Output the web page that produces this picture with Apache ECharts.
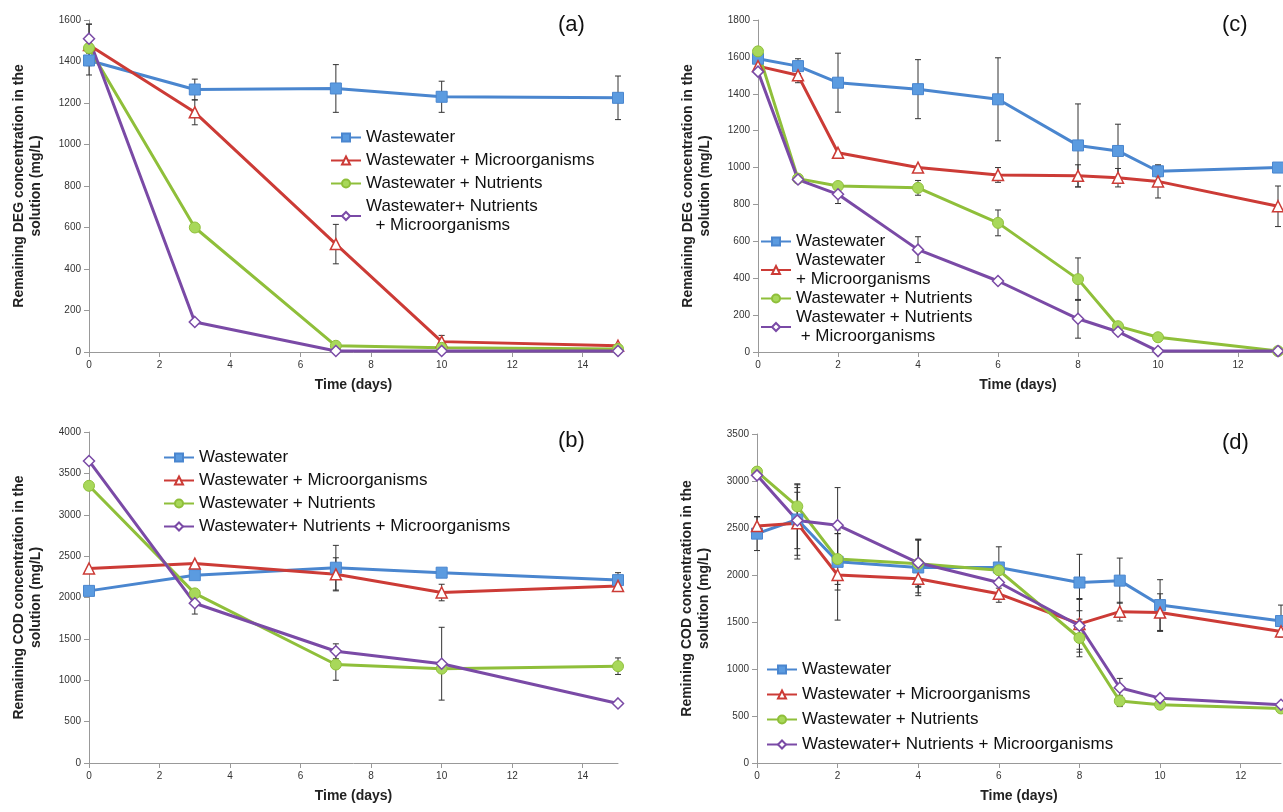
<!DOCTYPE html>
<html>
<head>
<meta charset="utf-8">
<script src="https://cdn.jsdelivr.net/npm/echarts@6/dist/echarts.min.js"></script>
<style>body{margin:0;background:#fff}#main{width:1283px;height:812px}</style>
</head>
<body>
<div id="main"></div>
<script>
var daysAB = [0, 3, 7, 10, 15];
var daysCD = [0, 1, 2, 4, 6, 8, 9, 10, 13];

// (a) DEG, wastewater from plant 1
var aW = [1405, 1265, 1270, 1230, 1225], aWErr = [70, 50, 115, 75, 105];
var aM = [1480, 1155, 520, 50, 30], aMErr = [100, 60, 95, 30, 0];
var aN = [1465, 600, 30, 20, 15], aNErr = [0, 0, 0, 0, 0];
var aNM = [1510, 145, 5, 5, 5], aNMErr = [70, 0, 0, 0, 0];
// (b) COD
var bW = [2080, 2270, 2360, 2300, 2210], bWErr = [0, 0, 270, 0, 90];
var bM = [2350, 2410, 2280, 2060, 2140], bMErr = [0, 0, 200, 100, 0];
var bN = [3350, 2050, 1190, 1140, 1170], bNErr = [0, 0, 190, 0, 100];
var bNM = [3650, 1930, 1350, 1200, 720], bNMErr = [0, 130, 90, 440, 0];
// (c) DEG
var cW = [1590, 1550, 1460, 1425, 1370, 1120, 1090, 980, 1000], cWErr = [0, 40, 160, 160, 225, 225, 145, 30, 0];
var cM = [1550, 1500, 1080, 1000, 960, 955, 945, 925, 790], cMErr = [0, 40, 0, 0, 40, 60, 50, 90, 110];
var cN = [1630, 940, 900, 890, 700, 395, 140, 80, 5], cNErr = [0, 0, 0, 40, 70, 115, 0, 0, 0];
var cNM = [1520, 935, 855, 555, 385, 180, 110, 5, 5], cNMErr = [0, 0, 50, 70, 0, 105, 0, 0, 0];
// (d) COD
var dW = [2440, 2590, 2140, 2080, 2080, 1920, 1940, 1680, 1510], dWErr = [180, 380, 300, 300, 220, 300, 240, 270, 170];
var dM = [2520, 2550, 2000, 1960, 1800, 1480, 1610, 1600, 1400], dMErr = [100, 380, 480, 150, 90, 270, 100, 200, 0];
var dN = [3100, 2730, 2170, 2120, 2050, 1330, 660, 620, 580], dNErr = [0, 230, 270, 250, 0, 200, 60, 0, 0];
var dNM = [3060, 2580, 2530, 2130, 1920, 1460, 800, 690, 620], dNMErr = [0, 300, 400, 250, 0, 280, 100, 0, 0];

var colors = ['#4a86cf', '#cc3b36', '#8fbf3a', '#7a4aa6'];
var symbols = ['rect', 'triangle', 'circle', 'diamond'];
var hollow = [false, true, false, true];
var fillCol = ['#5b9be0', '#ffffff', '#a8d85a', '#ffffff'];

var myChart = echarts.init(document.getElementById('main'));

var panels = [
  {id: 'a', days: daysAB, max: 15, ymax: 1600, yint: 200, ys: [aW, aM, aN, aNM], es: [aWErr, aMErr, aNErr, aNMErr],
   ylab: 'Remaining DEG concentration in the\nsolution (mg/L)',
   names: ['Wastewater', 'Wastewater + Microorganisms', 'Wastewater + Nutrients', 'Wastewater+ Nutrients\n  + Microorganisms'],
   grid: {left: 89, right: 665, top: 20, bottom: 460}, leg: {left: 330, top: 128}, gap: 4, tag: [558, 14]},
  {id: 'b', days: daysAB, max: 15, ymax: 4000, yint: 500, ys: [bW, bM, bN, bNM], es: [bWErr, bMErr, bNErr, bNMErr],
   ylab: 'Remaining COD concentration in the\nsolution (mg/L)',
   names: ['Wastewater', 'Wastewater + Microorganisms', 'Wastewater + Nutrients', 'Wastewater+ Nutrients + Microorganisms'],
   grid: {left: 89, right: 665, top: 432, bottom: 49}, leg: {left: 163, top: 448}, gap: 4, tag: [558, 430]},
  {id: 'c', days: daysCD, max: 13, ymax: 1800, yint: 200, ys: [cW, cM, cN, cNM], es: [cWErr, cMErr, cNErr, cNMErr],
   ylab: 'Remaining DEG concentration in the\nsolution (mg/L)',
   names: ['Wastewater', 'Wastewater\n+ Microorganisms', 'Wastewater + Nutrients', 'Wastewater + Nutrients\n + Microorganisms'],
   grid: {left: 758, right: 5, top: 20, bottom: 460}, leg: {left: 760, top: 232}, gap: 0, tag: [1222, 14]},
  {id: 'd', days: daysCD, max: 13, ymax: 3500, yint: 500, ys: [dW, dM, dN, dNM], es: [dWErr, dMErr, dNErr, dNMErr],
   ylab: 'Remining COD concentration in the\nsolution (mg/L)',
   names: ['Wastewater', 'Wastewater + Microorganisms', 'Wastewater + Nutrients', 'Wastewater+ Nutrients + Microorganisms'],
   grid: {left: 757, right: 2, top: 434, bottom: 49}, leg: {left: 766, top: 660}, gap: 6, tag: [1222, 432]}
];

var label = {fontFamily: 'Liberation Sans', color: '#333', fontSize: 10};
var grids = [], xAxes = [], yAxes = [], series = [], legends = [], graphics = [];
var nameMap = {};

panels.forEach(function (p, gi) {
  grids.push(p.grid);
  xAxes.push({type: 'value', gridIndex: gi, min: 0, max: p.max, interval: 2,
    name: 'Time (days)', nameLocation: 'middle', nameGap: 26,
    nameTextStyle: {fontFamily: 'Liberation Sans', fontWeight: 'bold', fontSize: 14, color: '#222'},
    axisLine: {lineStyle: {color: '#999'}}, axisTick: {lineStyle: {color: '#999'}},
    splitLine: {show: false},
    axisLabel: Object.assign({formatter: function (v) { return v % 2 === 0 ? String(v) : ''; }, showMaxLabel: false}, label)});
  yAxes.push({type: 'value', gridIndex: gi, min: 0, max: p.ymax, interval: p.yint,
    name: p.ylab, nameLocation: 'middle', nameGap: 44,
    nameTextStyle: {fontFamily: 'Liberation Sans', fontWeight: 'bold', fontSize: 14, color: '#222', lineHeight: 17},
    axisLine: {show: true, lineStyle: {color: '#999'}}, axisTick: {show: true, lineStyle: {color: '#999'}},
    splitLine: {show: false}, axisLabel: Object.assign({formatter: function (v) { return String(v); }}, label)});
  var legData = [];
  p.ys.forEach(function (vals, si) {
    var nm = p.id + si;
    nameMap[nm] = p.names[si];
    legData.push(nm);
    var errData = p.days.map(function (d, i) { return [d, vals[i], p.es[si][i]]; });
    series.push({type: 'custom', xAxisIndex: gi, yAxisIndex: gi, z: 1, silent: true,
      data: errData.filter(function (e) { return e[2] > 0; }),
      renderItem: function (params, api) {
        var x = api.value(0), y = api.value(1), e = api.value(2);
        var top = api.coord([x, y + e]), bot = api.coord([x, Math.max(0, y - e)]);
        var st = {stroke: '#333', lineWidth: 1};
        return {type: 'group', children: [
          {type: 'line', shape: {x1: top[0], y1: top[1], x2: bot[0], y2: bot[1]}, style: st},
          {type: 'line', shape: {x1: top[0] - 3, y1: top[1], x2: top[0] + 3, y2: top[1]}, style: st},
          {type: 'line', shape: {x1: bot[0] - 3, y1: bot[1], x2: bot[0] + 3, y2: bot[1]}, style: st}
        ]};
      }});
    series.push({name: nm, type: 'line', xAxisIndex: gi, yAxisIndex: gi, z: 3,
      data: p.days.map(function (d, i) { return [d, vals[i]]; }),
      symbol: symbols[si], symbolSize: 11,
      lineStyle: {color: colors[si], width: 3},
      itemStyle: {color: fillCol[si], borderColor: colors[si], borderWidth: hollow[si] ? 1.5 : 1}});
  });
  legends.push({data: legData, orient: 'vertical', left: p.leg.left, top: p.leg.top,
    itemWidth: 30, itemHeight: 10, itemGap: p.gap, padding: 0,
    formatter: function (n) { return nameMap[n]; },
    textStyle: {fontFamily: 'Liberation Sans', fontSize: 17, color: '#111', lineHeight: 19}});
  graphics.push({type: 'text', left: p.tag[0], top: p.tag[1],
    style: {text: '(' + p.id + ')', font: '22px "Liberation Sans"', fill: '#111'}});
});

var option = {
  animation: false,
  grid: grids, xAxis: xAxes, yAxis: yAxes,
  series: series, legend: legends, graphic: graphics
};
myChart.setOption(option);
</script>
</body>
</html>
